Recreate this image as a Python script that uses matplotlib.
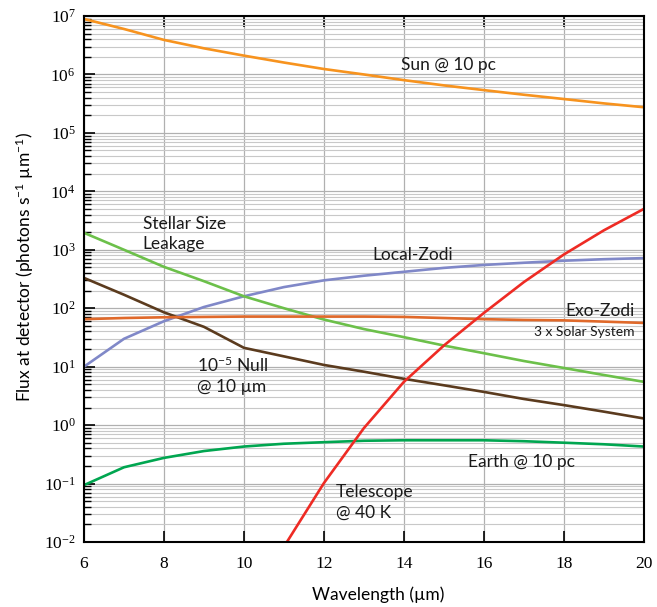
import numpy as np
import matplotlib
matplotlib.use("Agg")
import matplotlib.pyplot as plt
from matplotlib.ticker import NullFormatter

# wavelength grid (um)
wl = [6, 7, 8, 9, 10, 11, 12, 13, 14, 15, 16, 17, 18, 19, 20]

# fluxes (photons s^-1 um^-1)
sun = [8.9e6, 6.0e6, 3.9e6, 2.8e6, 2.1e6, 1.6e6, 1.24e6, 1.0e6, 8.0e5, 6.5e5,
       5.4e5, 4.5e5, 3.8e5, 3.2e5, 2.75e5]
local_zodi = [10, 30, 60, 105, 160, 230, 300, 360, 420, 490, 550, 600, 650, 690, 720]
leakage = [1950, 1000, 510, 290, 160, 100, 64, 44, 32, 23, 17, 12.5, 9.5, 7.2, 5.5]
null = [330, 170, 85, 48, 21, 15, 10.7, 8.2, 6.2, 4.8, 3.7, 2.8, 2.2, 1.7, 1.3]
exo_zodi = [65, 68, 70, 71, 72, 72, 72, 72, 71, 68, 65, 63, 62, 59, 56]
earth = [0.094, 0.19, 0.275, 0.36, 0.43, 0.48, 0.51, 0.54, 0.55, 0.55,
         0.55, 0.53, 0.50, 0.47, 0.43]
wl_tel = [11, 12, 13, 14, 15, 16, 17, 18, 19, 20]
telescope = [0.0083, 0.102, 0.89, 5.5, 23, 83, 280, 830, 2150, 5000]

decades = list(range(-2, 8))

serif = "Liberation Serif"
sans = "Lato"
plt.rcParams["font.family"] = serif

fig = plt.figure(figsize=(6.57, 6.07), dpi=100)
ax = fig.add_axes([0.1279, 0.1071, 0.852, 0.8665])

ax.plot(wl, sun, color="#F7931E", lw=1.9)
ax.plot(wl, local_zodi, color="#8088C8", lw=1.9)
ax.plot(wl, leakage, color="#6CC04A", lw=1.9)
ax.plot(wl, null, color="#5B3B1E", lw=1.9)
ax.plot(wl, exo_zodi, color="#E0692A", lw=1.9)
ax.plot(wl, earth, color="#00A650", lw=1.9)
ax.plot(wl_tel, telescope, color="#EE2B24", lw=1.9)

ax.set_yscale("log")
ax.set_xlim(6, 20)
ax.set_ylim(1e-2, 1e7)
ax.set_xticks(range(6, 21, 2))
ax.set_yticks([10.0 ** k for k in decades])
ax.set_yticklabels(["$\\mathdefault{10^{%d}}$" % k for k in decades])
ax.set_yticks([m * 10.0 ** k for k in decades[:-1] for m in range(2, 10)], minor=True)
ax.yaxis.set_minor_formatter(NullFormatter())

ax.grid(True, which="major", color="#b0b0b0", lw=0.9)
ax.grid(True, which="minor", axis="y", color="#c8c8c8", lw=0.8)
ax.set_axisbelow(True)

ax.tick_params(which="major", direction="in", length=8, width=1.2,
               top=True, right=False, labelsize=12.5)
ax.tick_params(axis="y", which="major", pad=6)
ax.tick_params(axis="x", which="major", pad=10)
ax.tick_params(which="minor", direction="in", length=5, width=1.0,
               top=False, right=False)
ax.tick_params(axis="x", which="minor", bottom=False, top=False)
for s in ax.spines.values():
    s.set_linewidth(1.5)

ax.set_xlabel("Wavelength (\u00b5m)", fontfamily=sans, fontsize=12.5, va="center")
ax.xaxis.set_label_coords(0.525, -0.10)
ax.set_ylabel("Flux at detector (photons s$\\mathdefault{^{-1}}$ \u00b5m$\\mathdefault{^{-1}}$)",
              fontfamily=sans, fontsize=12.5, va="center")
ax.yaxis.set_label_coords(-0.105, 0.523)

tk = dict(fontfamily=sans, fontsize=12.5, color="#1a1a1a")
ax.text(13.93, 10**6.16, "Sun @ 10 pc", va="center", ha="left", **tk)
ax.text(7.47, 10**3.27, "Stellar Size\nLeakage", va="center", ha="left",
        linespacing=1.35, **tk)
ax.text(13.22, 10**2.91, "Local-Zodi", va="center", ha="left", **tk)
ax.text(19.78, 10**1.95, "Exo-Zodi", va="center", ha="right", **tk)
ax.text(19.78, 10**1.59, "3 x Solar System", va="center", ha="right",
        fontfamily=sans, fontsize=10, color="#1a1a1a")
ax.text(8.82, 10**0.85, "10$\\mathdefault{^{-5}}$ Null\n@ 10 \u00b5m", va="center",
        ha="left", linespacing=1.35, **tk)
ax.text(15.6, 10**-0.63, "Earth @ 10 pc", va="center", ha="left", **tk)
ax.text(12.3, 10**-1.32, "Telescope\n@ 40 K", va="center", ha="left",
        linespacing=1.35, **tk)

fig.savefig("out.png", dpi=100)
